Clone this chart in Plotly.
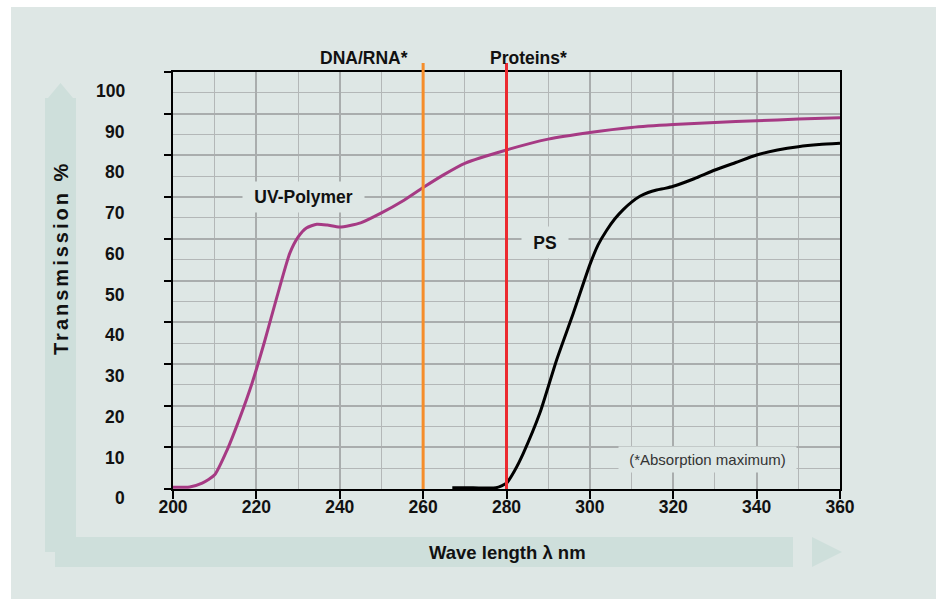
import plotly.graph_objects as go

# ---------------- data ----------------
uv_wavelength = [200, 204, 207, 210, 213, 216, 219, 222, 225, 228, 230, 232, 234.5, 237, 240, 245,
                 250, 255, 260, 265, 270, 280, 290, 300, 310, 320, 330, 340, 350, 360]
uv_transmission = [0.4, 0.5, 1.4, 3.4, 9.4, 17.0, 25.5, 35.5, 46.3, 56.5, 60.4, 62.6, 63.5, 63.3, 62.8,
                   63.8, 66.2, 69.0, 72.3, 75.4, 78.1, 81.3, 83.9, 85.5, 86.7, 87.4, 87.9, 88.3, 88.7, 89.0]

ps_wavelength = [267, 272, 277.5, 280, 282, 284, 288, 292, 296, 300, 302, 304, 306, 308, 310, 312, 314, 316,
                 318, 320, 325, 330, 335, 340, 345, 350, 355, 360]
ps_transmission = [0.3, 0.3, 0.3, 1.4, 4.5, 8.5, 18.2, 30.9, 42.1, 53.8, 58.6, 62.0, 64.8, 67.0, 68.8, 70.2,
                   71.1, 71.7, 72.1, 72.6, 74.4, 76.5, 78.3, 80.1, 81.3, 82.1, 82.6, 82.9]

marker_wavelengths = [260, 280]
marker_labels = ["DNA/RNA*", "Proteins*"]
marker_colors = ["#f58d2a", "#ec2a30"]

x_ticks = [200, 220, 240, 260, 280, 300, 320, 340, 360]
y_ticks = [0, 10, 20, 30, 40, 50, 60, 70, 80, 90, 100]

# ---------------- styling ----------------
W, H = 946, 599
L, R, T, B = 173, 840, 72, 489
PANEL = "#dee7e5"
BAND = "#cedfdb"
GRID = "#a9adad"
GRID_MINOR = "#b3b7b7"
FONT = "Liberation Sans"
FS = 17.5


def px_x(p):
    return (p - L) / (R - L)


def px_y(p):
    return (B - p) / (B - T)


fig = go.Figure()

fig.add_trace(go.Scatter(x=uv_wavelength, y=uv_transmission, mode="lines",
                         line=dict(color="#a63a84", width=3, shape="spline", smoothing=0.6),
                         hoverinfo="skip", showlegend=False))
fig.add_trace(go.Scatter(x=ps_wavelength, y=ps_transmission, mode="lines",
                         line=dict(color="#000000", width=3, shape="spline", smoothing=0.6),
                         hoverinfo="skip", showlegend=False))

shapes = []
# background panel
shapes.append(dict(type="rect", xref="paper", yref="paper", x0=px_x(11), x1=px_x(936), y0=px_y(599), y1=px_y(7),
                   fillcolor=PANEL, line=dict(width=0), layer="below"))
# vertical arrow band + head
shapes.append(dict(type="rect", xref="paper", yref="paper", x0=px_x(45), x1=px_x(76), y0=px_y(552), y1=px_y(98),
                   fillcolor=BAND, line=dict(width=0), layer="below"))
shapes.append(dict(type="path", xref="paper", yref="paper",
                   path=f"M {px_x(48)} {px_y(98)} L {px_x(60.5)} {px_y(83)} L {px_x(73)} {px_y(98)} Z",
                   fillcolor=BAND, line=dict(width=0), layer="below"))
# horizontal arrow band + head
shapes.append(dict(type="rect", xref="paper", yref="paper", x0=px_x(55), x1=px_x(793), y0=px_y(567), y1=px_y(537),
                   fillcolor=BAND, line=dict(width=0), layer="below"))
shapes.append(dict(type="path", xref="paper", yref="paper",
                   path=f"M {px_x(812)} {px_y(537)} L {px_x(842)} {px_y(552)} L {px_x(812)} {px_y(567)} Z",
                   fillcolor=BAND, line=dict(width=0), layer="below"))
# absorption maximum lines
for wl, col in zip(marker_wavelengths, marker_colors):
    shapes.append(dict(type="line", xref="x", yref="paper", x0=wl, x1=wl, y0=0, y1=px_y(63),
                       line=dict(color=col, width=3), layer="above"))

annotations = []
# marker labels
for wl, lab, xs, anchor in zip(marker_wavelengths, marker_labels, [-13, 22], ["right", "center"]):
    annotations.append(dict(x=wl, xref="x", y=px_y(58), yref="paper", text=lab, showarrow=False,
                            xanchor=anchor, yanchor="middle", xshift=xs,
                            font=dict(family=FONT, size=FS, color="#111111", weight="bold")))
# curve labels with background masks
annotations.append(dict(x=231.2, y=70, xref="x", yref="y", text="UV-Polymer", showarrow=False,
                        width=121, height=30, bgcolor=PANEL, borderpad=0,
                        font=dict(family=FONT, size=FS, color="#111111", weight="bold")))
annotations.append(dict(x=289.2, y=59, xref="x", yref="y", text="PS", showarrow=False,
                        width=46, height=31, bgcolor=PANEL, borderpad=0,
                        font=dict(family=FONT, size=FS, color="#111111", weight="bold")))
annotations.append(dict(x=328.1, y=7, xref="x", yref="y", text="(*Absorption maximum)", showarrow=False,
                        width=177, height=25, bgcolor=PANEL, borderpad=0,
                        font=dict(family=FONT, size=15, color="#333333")))
# y tick labels (set slightly below their ticks, as in the original)
for k, v in enumerate(y_ticks):
    annotations.append(dict(x=0, xref="paper", y=v, yref="y", text=str(v), showarrow=False,
                            xanchor="right", yanchor="middle", xshift=-46, yshift=-(9.3 + 0.97 * k),
                            font=dict(family=FONT, size=FS, color="#111111", weight="bold")))
# axis titles
annotations.append(dict(x=px_x(507), y=px_y(552), xref="paper", yref="paper", text="Wave length λ nm",
                        showarrow=False, xanchor="center", yanchor="middle",
                        font=dict(family=FONT, size=18.5, color="#111111", weight="bold")))
annotations.append(dict(x=px_x(61), y=px_y(258), xref="paper", yref="paper",
                        text="<span style='letter-spacing:3px'>Transmission %</span>",
                        showarrow=False, textangle=-90, xanchor="center", yanchor="middle",
                        font=dict(family=FONT, size=20, color="#111111", weight="bold")))

fig.update_layout(
    width=W, height=H,
    margin=dict(l=L, r=W - R, t=T, b=H - B, pad=0),
    paper_bgcolor="#ffffff", plot_bgcolor="rgba(0,0,0,0)",
    shapes=shapes, annotations=annotations,
    showlegend=False,
    xaxis=dict(range=[200, 360], tickmode="array", tickvals=x_ticks, ticktext=[str(v) for v in x_ticks],
               ticks="outside", ticklen=8, tickwidth=2, tickcolor="#000000",
               ticklabelstandoff=-7,
               tickfont=dict(family=FONT, size=FS, color="#111111", weight="bold"),
               showline=True, linecolor="#000000", linewidth=2, mirror=True,
               showgrid=True, gridcolor=GRID, gridwidth=2, zeroline=False,
               minor=dict(dtick=10, tick0=200, showgrid=True, gridcolor=GRID_MINOR, gridwidth=1)),
    yaxis=dict(range=[0, 100], tickmode="array", tickvals=y_ticks, showticklabels=False,
               ticks="outside", ticklen=7, tickwidth=2, tickcolor="#000000",
               showline=True, linecolor="#000000", linewidth=2, mirror=True,
               showgrid=True, gridcolor=GRID, gridwidth=2, zeroline=False,
               minor=dict(dtick=5, tick0=0, showgrid=True, gridcolor=GRID_MINOR, gridwidth=1)),
)

fig.write_html("out.html", config={"displayModeBar": False},
               post_script="document.body.style.margin='0';")
